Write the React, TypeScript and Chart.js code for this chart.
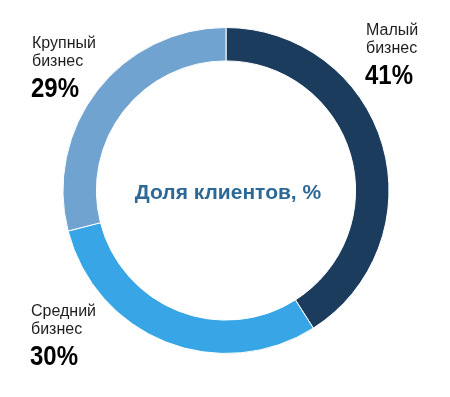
import React, { useEffect, useRef } from "react";
import { Chart, registerables } from "chart.js";

Chart.register(...registerables);

const categories = ["Малый бизнес", "Средний бизнес", "Крупный бизнес"];
const labelLines = [["Малый", "бизнес"], ["Средний", "бизнес"], ["Крупный", "бизнес"]];
const shares = [41, 30, 29];
const colors = ["#1c3c5d", "#38a6e6", "#70a3cf"];
const centerTitle = "Доля клиентов, %";

// label anchors relative to the doughnut centre (x, baseline of first line)
const labelAnchors = [
  { dx: 140, dy: -156 },
  { dx: -195, dy: 125 },
  { dx: -194, dy: -143 },
];

const labelsPlugin = {
  id: "labelsPlugin",
  afterDraw(chart: any) {
    const ctx = chart.ctx;
    const arc = chart.getDatasetMeta(0).data[0];
    if (!arc) return;
    const cx = arc.x;
    const cy = arc.y;
    ctx.save();
    ctx.textAlign = "center";
    ctx.textBaseline = "alphabetic";
    ctx.fillStyle = "#2d6996";
    ctx.font = "bold 21px 'Liberation Sans', Arial, sans-serif";
    ctx.fillText(centerTitle, cx + 2, cy + 8);

    ctx.textAlign = "left";
    shares.forEach((v, i) => {
      const a = labelAnchors[i];
      const x = cx + a.dx;
      let y = cy + a.dy;
      ctx.fillStyle = "#1e1e1e";
      ctx.font = "16px 'Liberation Sans', Arial, sans-serif";
      labelLines[i].forEach((line) => {
        ctx.fillText(line, x, y);
        y += 18;
      });
      ctx.fillStyle = "#000000";
      ctx.font = "bold 27px 'Liberation Sans', Arial, sans-serif";
      const txt = v + "%";
      const w = ctx.measureText(txt).width;
      const sx = 48 / w;
      ctx.save();
      ctx.translate(x - 1, y + 13);
      ctx.scale(sx, 1);
      ctx.fillText(txt, 0, 0);
      ctx.restore();
    });
    ctx.restore();
  },
};

export default function App() {
  const ref = useRef<HTMLCanvasElement>(null);
  useEffect(() => {
    if (!ref.current) return;
    const chart = new Chart(ref.current, {
      type: "doughnut",
      data: {
        labels: categories,
        datasets: [
          {
            data: shares,
            backgroundColor: colors,
            borderColor: "#ffffff",
            borderWidth: 1,
            hoverOffset: 0,
          },
        ],
      },
      options: {
        animation: false,
        responsive: false,
        maintainAspectRatio: false,
        cutout: "79.5%",
        layout: { padding: { top: 27, bottom: 43, left: 62, right: 60 } },
        plugins: {
          legend: { display: false },
          tooltip: { enabled: false },
        },
      },
      plugins: [labelsPlugin],
    });
    return () => chart.destroy();
  }, []);
  return (
    <div style={{ position: "fixed", left: 0, top: 0, width: 450, height: 397, background: "#fff" }}>
      <canvas ref={ref} width={450} height={397} style={{ width: 450, height: 397, display: "block" }} />
    </div>
  );
}
